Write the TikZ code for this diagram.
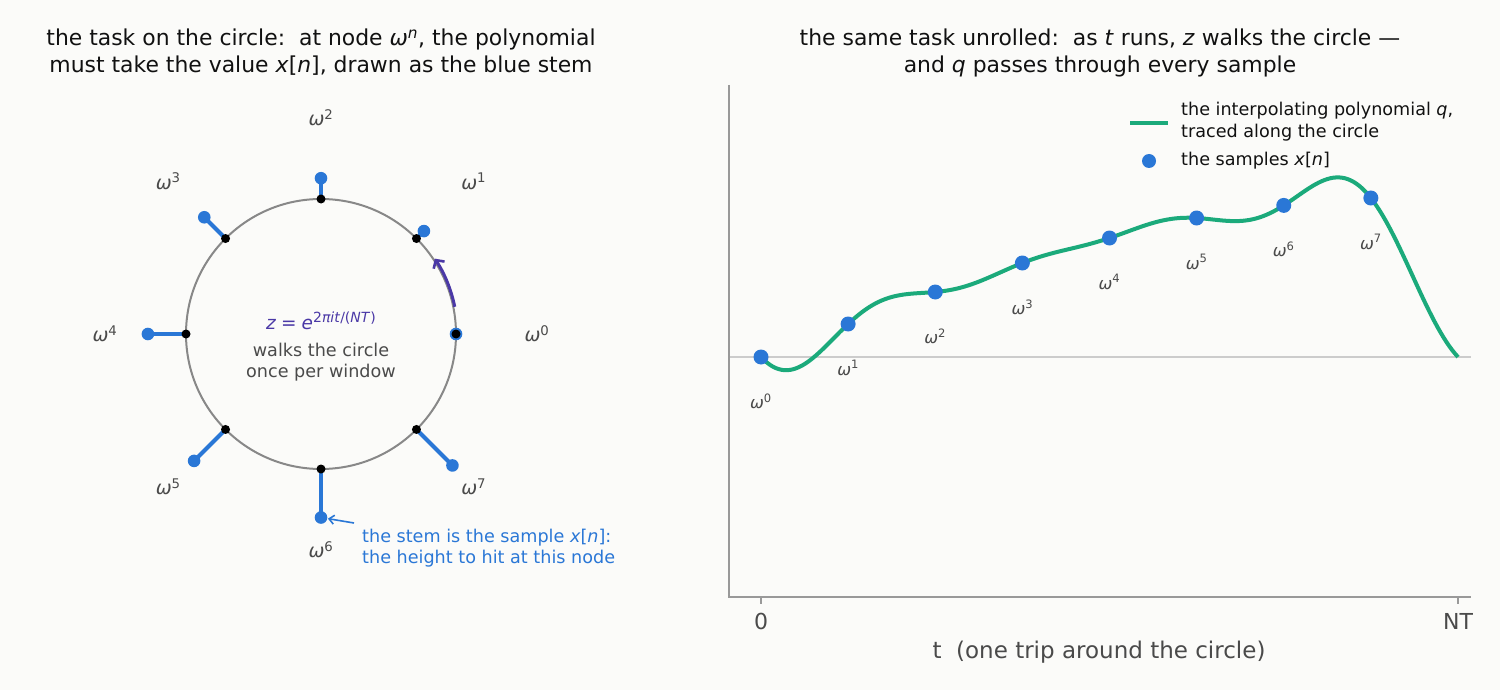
\documentclass[tikz,border=0pt]{standalone}
\usepackage{fontspec}
\setmainfont{DejaVu Sans}
\usetikzlibrary{arrows.meta}
\definecolor{bg}{HTML}{FBFBF9}
\definecolor{stemblue}{HTML}{2A77D6}
\definecolor{qgreen}{HTML}{1BAA7B}
\definecolor{arcpurple}{HTML}{4A38A6}
\definecolor{circgray}{HTML}{888888}
\definecolor{txtgray}{HTML}{4A4A4A}
\definecolor{axgray}{HTML}{999999}
\definecolor{zerogray}{HTML}{CCCCCC}
\definecolor{titleblack}{HTML}{111111}
\begin{document}
\begin{tikzpicture}[x=1pt,y=-1pt,
  declare function={
    K(\p)=(1+2*cos(\p)+2*cos(2*\p)+2*cos(3*\p)+cos(4*\p))/8;
    Q(\a)=33*K(\a-45)+65*K(\a-90)+94*K(\a-135)+119*K(\a-180)+139*K(\a-225)+151.6*K(\a-270)+159*K(\a-315);
  },
  titlestyle/.style={inner sep=0pt, align=center, text=titleblack, font=\fontsize{21.9}{27}\selectfont},
  cirlab/.style={inner sep=0pt, text=txtgray, font=\fontsize{19}{22}\selectfont},
  plab/.style={inner sep=0pt, text=txtgray, font=\fontsize{16.5}{19}\selectfont},
  midtext/.style={inner sep=0pt, align=center, text=txtgray, font=\fontsize{17.6}{21}\selectfont},
  anntext/.style={inner sep=0pt, align=left, anchor=west, text=stemblue, font=\fontsize{17.6}{21}\selectfont},
  legtext/.style={inner sep=0pt, align=left, anchor=west, text=titleblack, font=\fontsize{17.6}{21.6}\selectfont},
  ticklab/.style={inner sep=0pt, text=txtgray, font=\fontsize{22}{26}\selectfont},
  xlabstyle/.style={inner sep=0pt, text=txtgray, font=\fontsize{23}{27}\selectfont},
  stemline/.style={stemblue, line width=4pt},
  bdot/.style={circle, fill=stemblue, inner sep=0pt, minimum size=12.6pt},
  kdot/.style={circle, fill=black, inner sep=0pt, minimum size=9pt},
  pdot/.style={circle, fill=stemblue, inner sep=0pt, minimum size=15pt},
  qline/.style={qgreen, line width=4pt},
  spine/.style={axgray, line width=1.6pt},
]
\fill[bg] (0,0) rectangle (1500,690);
\useasboundingbox (0,0) rectangle (1500,690);

% ---------------- titles
\node[titlestyle] (title1) at (321,52.5) {the task on the circle:\ \ at node \textit{ω}\textsuperscript{\textit{n}}, the polynomial\\must take the value \textit{x}[\textit{n}], drawn as the blue stem};
\node[titlestyle] (title2) at (1100,52.5) {the same task unrolled:\ \ as \textit{t} runs, \textit{z} walks the circle ---\\and \textit{q} passes through every sample};

% ---------------- left panel: circle
\coordinate (cc) at (321,334);
\draw[circgray, line width=2pt] (cc) circle (135pt);
\foreach \n/\h in {0/0,1/33,2/65,3/94,4/119,5/139,6/151.6,7/159}{
  \pgfmathsetmacro\ang{45*\n}
  \coordinate (c\n) at ({321+135*cos(\ang)},{334-135*sin(\ang)});
  \coordinate (s\n) at ({321+(135+0.32*\h)*cos(\ang)},{334-(135+0.32*\h)*sin(\ang)});
  \node[cirlab] (w\n) at ({321+216*cos(\ang)},{334-216*sin(\ang)}) {\textit{ω}\textsuperscript{\n}};
}
\foreach \n in {1,...,7}{\draw[stemline] (c\n) -- (s\n);}
\foreach \n in {0,...,7}{\node[bdot] (d\n) at (s\n) {};}
\foreach \n in {0,...,7}{\node[kdot] (k\n) at (c\n) {};}

% purple arc with arrow
\draw[arcpurple, line width=3pt, -{Straight Barb[length=6pt,width=13pt,line width=2.6pt]}]
  ({321+136.5*cos(11.5)},{334-136.5*sin(11.5)}) arc[start angle=11.5, end angle=33.5, radius=136.5pt];

% centre text
\node[midtext, text=arcpurple, font=\fontsize{18.5}{21}\selectfont] (formula) at (321,321) {\textit{z}\kern5pt=\kern5pt\textit{e}\raisebox{7.5pt}{\fontsize{14}{16}\selectfont 2\textit{πit}/(\textit{NT})}};
\node[midtext] (walks) at (321,362.5) {walks the circle\\once per window};

% annotation
\node[anntext] (ann) at (362,548.5) {the stem is the sample \textit{x}[\textit{n}]:\\the height to hit at this node};
\coordinate (annstart) at (354,523);
\draw[stemblue, line width=1.6pt, -{Straight Barb[length=5pt,width=9pt]}, shorten >=0.5pt] (annstart) -- (d6);

% ---------------- right panel: unrolled
\draw[zerogray, line width=1.6pt] (729,357) -- (1471,357);
\draw[spine] (729,85) -- (729,597) -- (1471,597);
\draw[spine] (761,597) -- (761,603.5);
\draw[spine] (1458,597) -- (1458,603.5);
\node[ticklab] (tick0) at (761,621.5) {0};
\node[ticklab] (tickNT) at (1458,621.5) {NT};
\node[xlabstyle] (xlab) at (1099,652) {t\ \ (one trip around the circle)};

\draw[qline, line join=round] plot[domain=0:360, samples=241] ({761+\x*(697/360)},{357-Q(\x)});

\foreach \n/\h in {0/0,1/33,2/65,3/94,4/119,5/139,6/151.6,7/159}{
  \node[pdot] (q\n) at ({761+87.125*\n},{357-\h}) {};
  \node[plab] (ql\n) at ({761+87.125*\n},{357-\h+44}) {\textit{ω}\textsuperscript{\n}};
}

% legend
\draw[qline] (1130,123) -- (1168,123);
\node[legtext] (leg1) at (1181,121.5) {the interpolating polynomial \textit{q},\\traced along the circle};
\node[pdot, minimum size=14pt] (legdot) at (1149,161) {};
\node[legtext] (leg2) at (1181,160.7) {the samples \textit{x}[\textit{n}]};
\end{tikzpicture}
\end{document}
